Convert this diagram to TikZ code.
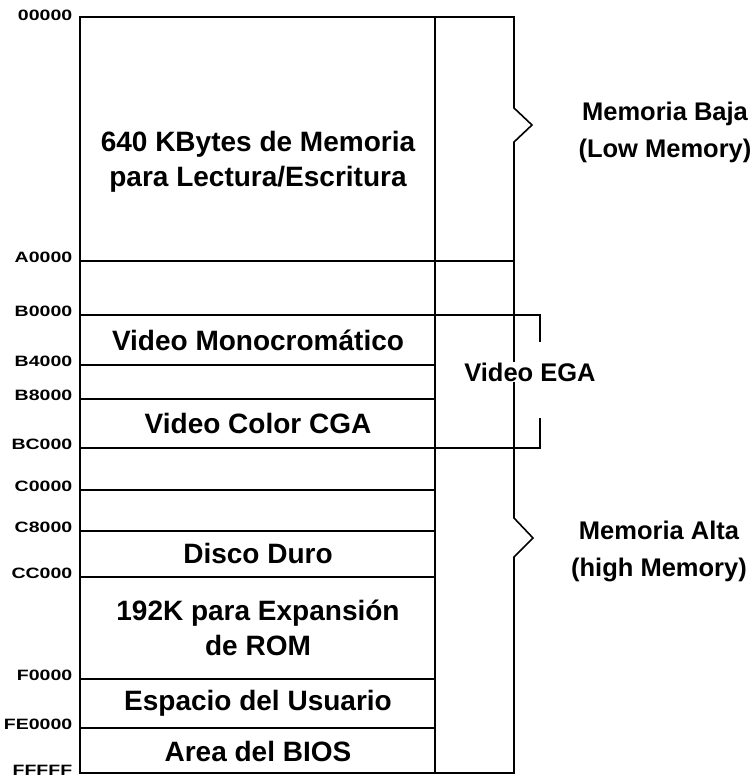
\documentclass[tikz,border=0pt]{standalone}
\usepackage{fontspec}
\setmainfont{Liberation Sans}
\newfontfamily\addrfont[FakeStretch=1.3]{Liberation Sans}
\usetikzlibrary{positioning}

\begin{document}
\begin{tikzpicture}[x=1pt, y=-1pt, line width=1.6pt,
  region/.style={font=\fontsize{28}{35}\selectfont\bfseries, align=center, inner sep=1pt},
  addr/.style={font=\addrfont\fontsize{15}{15}\selectfont\bfseries, anchor=east, inner sep=0pt},
  side/.style={font=\fontsize{25.5}{37}\selectfont\bfseries, align=center, inner sep=1pt}]
  \useasboundingbox (0,0) rectangle (753,784);

  % Memory map
  \draw (80,17) rectangle (435,773);

  % Right column with the two braces
  \draw (435,17) -- (514,17) -- (514,108) -- (532,125) -- (514,142)
        -- (514,518) -- (533,538) -- (514,557) -- (514,773) -- (435,773);

  % Address labels
  \node[addr] (a00000) at (73,15) {00000};
  \node[addr] (aFFFFF) at (73,770) {FFFFF};

  % Boundaries inside the map
  \foreach \y/\lbl in {365/B4000, 399/B8000, 490/C0000, 531/C8000,
                       577/CC000, 679/F0000, 728/FE0000} {
    \draw (80,\y) -- (435,\y);
    \node[addr] (a\lbl) at (73,\y-4) {\lbl};
  }

  % Boundary between low and high memory
  \draw (80,261) -- (514,261);
  \node[addr] (aA0000) at (73,257) {A0000};

  % Video EGA bracket
  \draw (80,315) -- (540,315) -- (540,342);
  \draw (80,448) -- (540,448) -- (540,418);
  \node[addr] (aB0000) at (73,311) {B0000};
  \node[addr] (aBC000) at (73,444) {BC000};

  % Regions
  \node[region] (ram) at (258,162) {640 KBytes de Memoria\\para Lectura/Escritura};
  \node[region] (mono) at (258,340) {Video Monocrom\'atico};
  \node[region] (cga) at (258,423) {Video Color CGA};
  \node[region] (disco) at (258,553) {Disco Duro};
  \node[region] (rom) at (258,628) {192K para Expansi\'on\\de ROM};
  \node[region] (usuario) at (258,703) {Espacio del Usuario};
  \node[region] (bios) at (258,751) {Area del BIOS};

  % Side labels
  \node[side, fill=white] (ega) at (530,372) {Video EGA};
  \node[side] (baja) at (665,132) {Memoria Baja\\(Low Memory)};
  \node[side] (alta) at (659,551) {Memoria Alta\\(high Memory)};
\end{tikzpicture}
\end{document}
